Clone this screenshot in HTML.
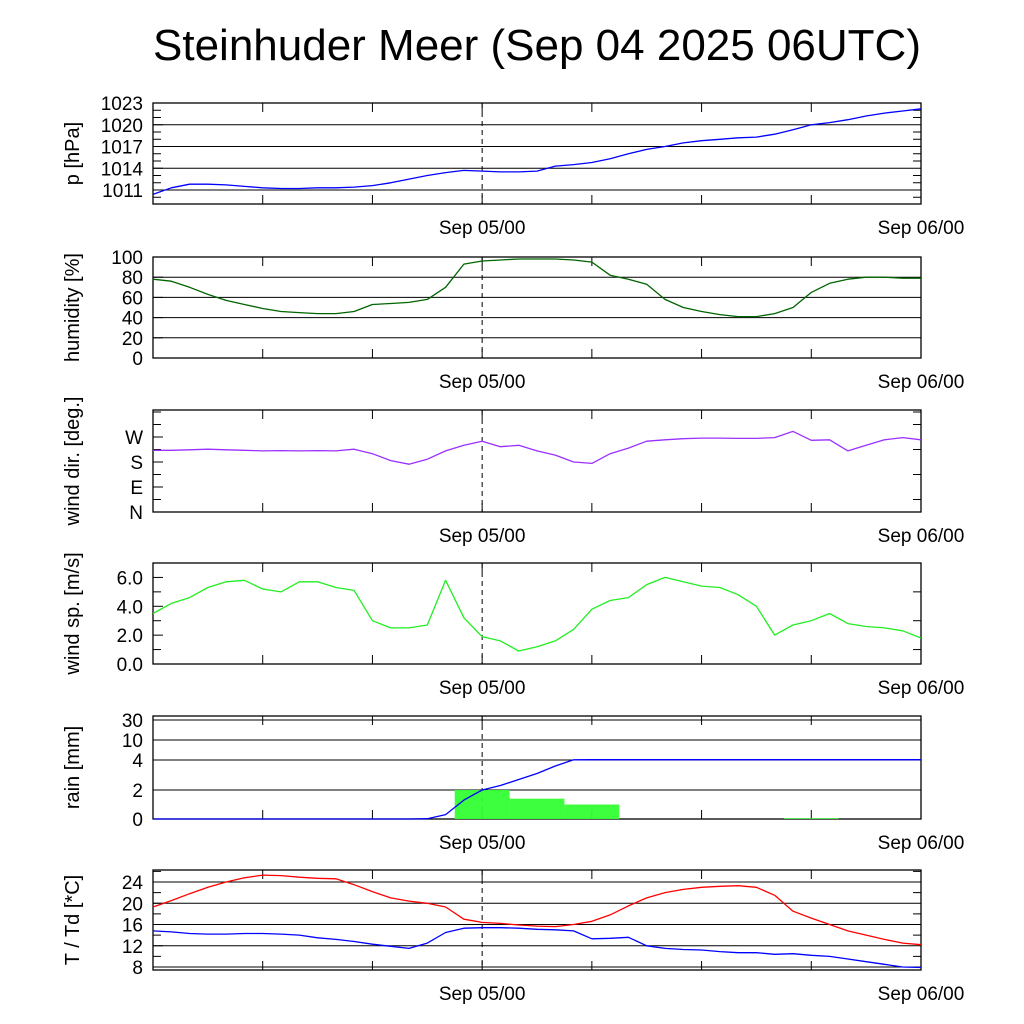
<!DOCTYPE html>
<html><head><meta charset="utf-8"><style>
body{margin:0;background:#fff}
svg{display:block;font-family:"Liberation Sans",sans-serif}
</style></head><body>
<svg id="c" width="1024" height="1024" viewBox="0 0 1024 1024">
<text x="537" y="60" text-anchor="middle" font-size="44">Steinhuder Meer (Sep 04 2025 06UTC)</text>
</svg>
<script>
// hours since Sep 04 06UTC
const hours=[0,1,2,3,4,5,6,7,8,9,10,11,12,13,14,15,16,17,18,19,20,21,22,23,24,25,26,27,28,29,30,31,32,33,34,35,36,37,38,39,40,41,42];
const pressure=[1010.4,1011.3,1011.8,1011.8,1011.7,1011.5,1011.3,1011.2,1011.2,1011.3,1011.3,1011.4,1011.6,1012.0,1012.5,1013.0,1013.4,1013.7,1013.6,1013.5,1013.5,1013.6,1014.3,1014.5,1014.8,1015.3,1016.0,1016.6,1017.0,1017.5,1017.8,1018.0,1018.2,1018.3,1018.7,1019.3,1020.0,1020.3,1020.7,1021.2,1021.6,1021.9,1022.2];
const humidity=[78,76,70,63,57,53,49,46,45,44,44,46,53,54,55,58,70,93,96,97,98,98,98,97,95,82,78,73,58,50,46,43,41,41,44,50,65,74,78,80,80,79,79];
const windDir=[222,222,224,226,224,222,220,221,220,221,220,226,210,185,172,190,220,240,255,235,240,220,205,180,175,210,230,255,260,264,266,266,265,265,268,290,258,260,220,240,260,268,260];
const windSpeed=[3.5,4.2,4.6,5.3,5.7,5.8,5.2,5.0,5.7,5.7,5.3,5.1,3.0,2.5,2.5,2.7,5.8,3.2,1.9,1.6,0.9,1.2,1.6,2.4,3.8,4.4,4.6,5.5,6.0,5.7,5.4,5.3,4.8,4.0,2.0,2.7,3.0,3.5,2.8,2.6,2.5,2.3,1.8];
const rainCum=[0,0,0,0,0,0,0,0,0,0,0,0,0,0,0,0.02,0.3,1.3,2.0,2.3,2.7,3.1,3.6,4.05,4.1,4.1,4.1,4.1,4.1,4.1,4.1,4.1,4.1,4.1,4.1,4.1,4.1,4.1,4.1,4.1,4.1,4.1,4.1];
const rainBarHours=[18,21,24,36];
const rainBarValues=[2.0,1.4,1.0,0.05];
const temp=[19.3,20.5,21.8,23,24,24.8,25.3,25.2,24.9,24.7,24.6,23.5,22.2,21.0,20.4,20.0,19.3,17.0,16.4,16.2,15.9,15.7,15.6,16.0,16.6,17.8,19.5,21.0,22.0,22.6,23.0,23.2,23.3,23.0,21.5,18.5,17.2,16.0,14.8,14.0,13.2,12.5,12.2];
const dewpoint=[14.8,14.6,14.3,14.2,14.2,14.3,14.3,14.2,14.0,13.5,13.2,12.8,12.3,11.9,11.5,12.5,14.5,15.3,15.4,15.4,15.3,15.1,15.0,14.8,13.3,13.4,13.6,12.0,11.5,11.3,11.2,10.9,10.7,10.7,10.4,10.5,10.2,10.0,9.5,9.0,8.5,8.0,7.9];

const svg=document.getElementById('c');
const NS='http://www.w3.org/2000/svg';
const X0=153,X1=921,H0=0,H1=42;
const xs=h=>X0+(h-H0)/(H1-H0)*(X1-X0);
function el(t,a,p){const e=document.createElementNS(NS,t);for(const k in a)e.setAttribute(k,a[k]);(p||svg).appendChild(e);return e;}
// value d0 -> pixel y0, value d1 -> pixel y1
function lin(d0,y0,d1,y1){return v=>y0+(v-d0)/(d1-d0)*(y1-y0);}
function rainScale(top,bot){const dv=[0,2,4,10,30],py=[bot,790,760,740,720];return v=>{for(let i=0;i<dv.length-1;i++){if(v<=dv[i+1]){return py[i]+(v-dv[i])/(dv[i+1]-dv[i])*(py[i+1]-py[i]);}}return py[4]+(v-30)/20*(top-720);};}

function panel(name,top,bot,ys,ticks,labels,grid,minor,title){
  const g=el('g',{},svg);
  
  
  if(grid) ticks.forEach(t=>{const y=ys(t);el('line',{x1:X0,x2:X1,y1:y,y2:y,stroke:'#000','stroke-width':1},g);});
  minor.forEach(t=>{const y=ys(t);el('line',{x1:X0,x2:X0+8,y1:y,y2:y,stroke:'#000','stroke-width':1},g);el('line',{x1:X1,x2:X1-8,y1:y,y2:y,stroke:'#000','stroke-width':1},g);});
  ticks.forEach((t,i)=>{const y=ys(t);
    el('line',{x1:X0,x2:X0+10,y1:y,y2:y,stroke:'#000'},g);
    const tx=el('text',{x:X0-10,y:y+7,'text-anchor':'end','font-size':19},g);tx.textContent=labels[i];
    
    });
  for(let h=0;h<=42;h+=6){const x=xs(h);el('line',{x1:x,x2:x,y1:bot,y2:bot-9,stroke:'#000'},g);el('line',{x1:x,x2:x,y1:top,y2:top+9,stroke:'#000'},g);}
  el('line',{x1:xs(18),x2:xs(18),y1:top,y2:bot,stroke:'#000','stroke-dasharray':'5,4'},g);
  el('rect',{x:X0,y:top,width:X1-X0,height:bot-top,fill:'none',stroke:'#000','stroke-width':1.3},g);
  [[18,'Sep 05/00'],[42,'Sep 06/00']].forEach(([h,s])=>{const t=el('text',{x:xs(h),y:bot+30,'text-anchor':'middle','font-size':19},g);t.textContent=s;
    
    });
  const cy=(top+bot)/2;const tt=el('text',{x:0,y:0,transform:`translate(79,${cy}) rotate(-90)`,'text-anchor':'middle','font-size':20},g);tt.textContent=title;
  
  
  return g;
}
function line(g,vals,ys,color,name){
  const d=vals.map((v,i)=>(i?'L':'M')+xs(hours[i]).toFixed(1)+','+ys(v).toFixed(1)).join('');
  const p=el('path',{d,fill:'none',stroke:color,'stroke-width':1.3,'stroke-linejoin':'round'},g);
  
  
}
// pressure
let ys=lin(1011,190,1023,103);
let g=panel('pressure',103,204,ys,[1011,1014,1017,1020,1023],['1011','1014','1017','1020','1023'],true,[1010,1012,1013,1015,1016,1018,1019,1021,1022],'p [hPa]');
line(g,pressure,ys,'#0000ff','pressure-line');
// humidity
ys=lin(0,358,100,257);
g=panel('humidity',257,358,ys,[0,20,40,60,80,100],['0','20','40','60','80','100'],true,[],'humidity [%]');
line(g,humidity,ys,'#006400','humidity-line');
// wind dir
ys=lin(0,512,90,487);
g=panel('wind-direction',410,512,ys,[0,90,180,270],['N','E','S','W'],false,[45,135,225,315,360],'wind dir. [deg.]');
line(g,windDir,ys,'#9b30ff','wind-direction-line');
// wind speed
ys=lin(0,664,7,563);
g=panel('wind-speed',563,664,ys,[0,2,4,6],['0.0','2.0','4.0','6.0'],false,[1,3,5,7],'wind sp. [m/s]');
line(g,windSpeed,ys,'#22ee22','wind-speed-line');
// rain
ys=rainScale(716,819);
g=panel('rain',716,819,ys,[0,2,4,10,30],['0','2','4','10','30'],true,[],'rain [mm]');
rainBarHours.forEach((h,i)=>{const y=ys(rainBarValues[i]);const r=el('rect',{x:xs(h-1.5),y:y,width:xs(h+1.5)-xs(h-1.5),height:819-y,fill:'#33ff33',opacity:0.95},g);
  
  });
line(g,rainCum,ys,'#0000ff','rain-cumulative-line');
// temperature
ys=lin(8,967,24,882);
g=panel('temperature',870,970,ys,[8,12,16,20,24],['8','12','16','20','24'],true,[10,14,18,22,26],'T / Td [*C]');
line(g,temp,ys,'#ff0000','temperature-line');
line(g,dewpoint,ys,'#0000ff','dewpoint-line');
</script>
</body></html>
